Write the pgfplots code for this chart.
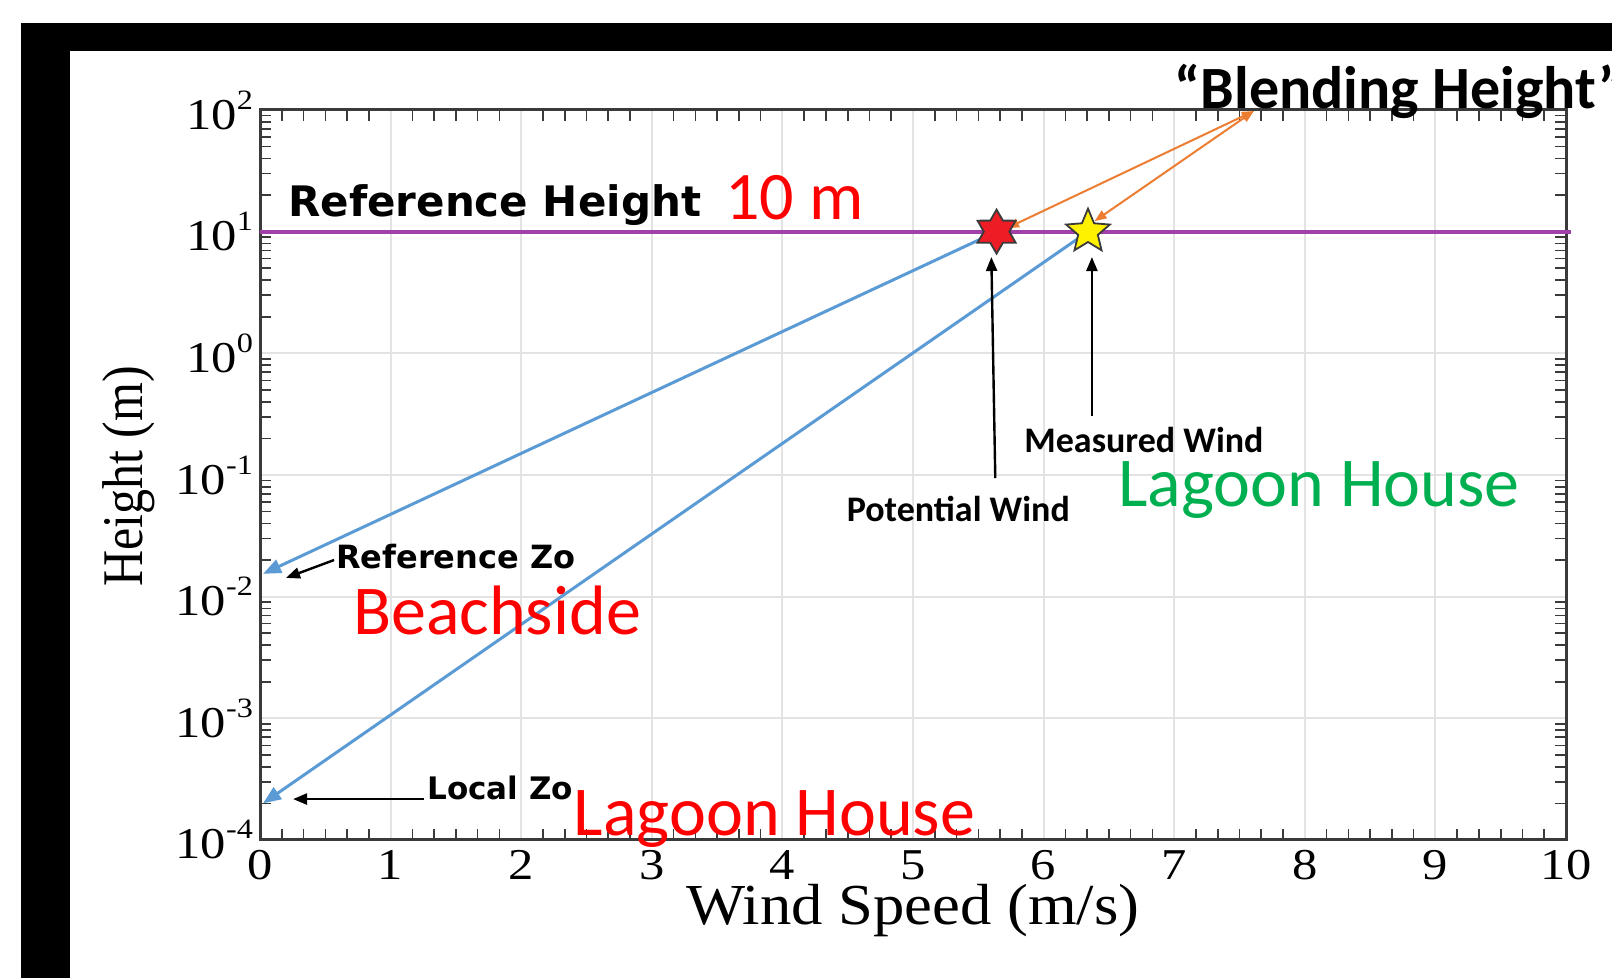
\documentclass[border=0pt]{standalone}
\usepackage{fontspec}
\setmainfont{Liberation Serif}
\newfontfamily\calibri{Carlito}
\newfontfamily\verd{DejaVu Sans}
\usepackage{graphicx}
\usepackage{pgfplots}
\pgfplotsset{compat=1.18}
\usetikzlibrary{arrows.meta}

\definecolor{lineblue}{HTML}{5B9BD5}
\definecolor{purp}{HTML}{A040A8}
\definecolor{orng}{HTML}{ED7D31}
\definecolor{grn}{HTML}{00B050}
\definecolor{gridc}{HTML}{E3E3E3}
\definecolor{axc}{HTML}{3A3A3A}
\definecolor{starred}{HTML}{EE1C25}

\pgfdeclareplotmark{fivestar}{%
  \pgfpathmoveto{\pgfpointpolar{90}{\pgfplotmarksize}}%
  \pgfpathlineto{\pgfpointpolar{126}{0.45\pgfplotmarksize}}%
  \pgfpathlineto{\pgfpointpolar{162}{\pgfplotmarksize}}%
  \pgfpathlineto{\pgfpointpolar{198}{0.45\pgfplotmarksize}}%
  \pgfpathlineto{\pgfpointpolar{234}{\pgfplotmarksize}}%
  \pgfpathlineto{\pgfpointpolar{270}{0.45\pgfplotmarksize}}%
  \pgfpathlineto{\pgfpointpolar{306}{\pgfplotmarksize}}%
  \pgfpathlineto{\pgfpointpolar{342}{0.45\pgfplotmarksize}}%
  \pgfpathlineto{\pgfpointpolar{18}{\pgfplotmarksize}}%
  \pgfpathlineto{\pgfpointpolar{54}{0.45\pgfplotmarksize}}%
  \pgfpathclose
  \pgfusepathqfillstroke}
\pgfdeclareplotmark{sixstar}{%
  \pgfpathmoveto{\pgfpointpolar{90}{\pgfplotmarksize}}%
  \pgfpathlineto{\pgfpointpolar{120}{0.58\pgfplotmarksize}}%
  \pgfpathlineto{\pgfpointpolar{150}{\pgfplotmarksize}}%
  \pgfpathlineto{\pgfpointpolar{180}{0.58\pgfplotmarksize}}%
  \pgfpathlineto{\pgfpointpolar{210}{\pgfplotmarksize}}%
  \pgfpathlineto{\pgfpointpolar{240}{0.58\pgfplotmarksize}}%
  \pgfpathlineto{\pgfpointpolar{270}{\pgfplotmarksize}}%
  \pgfpathlineto{\pgfpointpolar{300}{0.58\pgfplotmarksize}}%
  \pgfpathlineto{\pgfpointpolar{330}{\pgfplotmarksize}}%
  \pgfpathlineto{\pgfpointpolar{0}{0.58\pgfplotmarksize}}%
  \pgfpathlineto{\pgfpointpolar{30}{\pgfplotmarksize}}%
  \pgfpathlineto{\pgfpointpolar{60}{0.58\pgfplotmarksize}}%
  \pgfpathclose
  \pgfusepathqfillstroke}

\newcommand\ylab[1]{\scalebox{1.15}[1]{10\raisebox{10pt}{\fontsize{14}{14}\selectfont #1}}}

\begin{document}
\begin{tikzpicture}
\fill[white] (0,0) rectangle (806pt,489pt);
\path[use as bounding box] (0,0) rectangle (806pt,489pt);
\fill[black] (10.5pt,463.5pt) rectangle (806pt,477.5pt);
\fill[black] (10.5pt,0pt) rectangle (35pt,477.5pt);
\begin{axis}[
  at={(130pt,69pt)}, anchor=south west,
  scale only axis, width=653pt, height=365pt,
  ymode=log, xmin=0, xmax=10, ymin=1e-4, ymax=100,
  xtick={0,1,2,3,4,5,6,7,8,9,10},
  ytick={1e-4,1e-3,1e-2,1e-1,1,10,100},
  yticklabels={\ylab{-4},\ylab{-3},\ylab{-2},\ylab{-1},\ylab{0},\ylab{1},\ylab{2}},
  minor x tick num=5,
  minor ytick={2e-4,3e-4,4e-4,5e-4,6e-4,7e-4,8e-4,9e-4,
               2e-3,3e-3,4e-3,5e-3,6e-3,7e-3,8e-3,9e-3,
               2e-2,3e-2,4e-2,5e-2,6e-2,7e-2,8e-2,9e-2,
               2e-1,3e-1,4e-1,5e-1,6e-1,7e-1,8e-1,9e-1,
               2,3,4,5,6,7,8,9,20,30,40,50,60,70,80,90},
  grid=major, major grid style={gridc, line width=1pt},
  axis line style={axc, line width=1.5pt},
  major tick length=0pt, minor tick length=5.5pt,
  every tick/.style={axc, line width=0.8pt},
  tick label style={font=\fontsize{22}{24}\selectfont, text=black},
  xticklabel style={inner sep=1pt, yshift=-3.9pt},
  /pgf/number format/assume math mode=true,
  xticklabel={\scalebox{1.15}[1]{\pgfmathprintnumber{\tick}}},
  xlabel={\scalebox{1.08}[1]{Wind Speed (m/s)}},
  ylabel={\scalebox{1}[1.15]{Height (m)}},
  xlabel style={at={(axis description cs:0.5,-0.1164)}, anchor=base, inner sep=0pt, font=\fontsize{29}{30}\selectfont},
  ylabel style={at={(axis description cs:-0.1007,0.498)}, anchor=center, font=\fontsize{25}{26}\selectfont},
  clip=false,
]
% reference height line
\addplot[purp, line width=2pt] coordinates {(0,10) (10.04,10)};
% log-law profiles
\addplot[lineblue, line width=1.5pt, -{Triangle[length=9pt,width=7pt]}] coordinates {(5.64,10) (0.023,0.0154)};
\addplot[lineblue, line width=1.5pt, -{Triangle[length=9pt,width=7pt]}] coordinates {(6.34,10) (0.023,0.0002)};
% stars
\addplot[only marks, mark=sixstar, mark size=11pt, mark options={fill=starred, draw=axc, line width=0.9pt}] coordinates {(5.64,10)};
\addplot[only marks, mark=fivestar, mark size=11.5pt, mark options={fill=yellow, draw=axc, line width=0.9pt}] coordinates {(6.34,10)};
% orange arrows
\addplot[orng, line width=1pt, {Triangle[length=6pt,width=4.5pt]}-{Triangle[length=6pt,width=4.5pt]}] coordinates {(7.61,98) (5.72,10.7)};
\addplot[orng, line width=1pt, {Triangle[length=6pt,width=4.5pt]}-{Triangle[length=6pt,width=4.5pt]}] coordinates {(7.61,98) (6.39,12.2)};
% black pointers
\addplot[black, line width=1.2pt, -{Triangle[length=7pt,width=5.5pt]}] coordinates {(5.63,0.0944) (5.60,6.19)};
\addplot[black, line width=1.2pt, -{Triangle[length=7pt,width=5.5pt]}] coordinates {(6.37,0.305) (6.37,6.19)};
\addplot[black, line width=1.2pt, -{Triangle[length=7pt,width=5.5pt]}] coordinates {(0.567,0.02) (0.199,0.01426)};
\addplot[black, line width=1.2pt, -{Triangle[length=7pt,width=5.5pt]}] coordinates {(1.256,2.17e-4) (0.253,2.17e-4)};
% texts
\node[anchor=base west, inner sep=0pt, font={\verd\bfseries\fontsize{21}{21}\selectfont}] at (axis cs:0.214,13.2) {Reference Height};
\node[anchor=base west, inner sep=0pt, text=red, font={\calibri\fontsize{34}{34}\selectfont}] at (axis cs:3.56,12.47) {10 m};
\node[anchor=base west, inner sep=0pt, font={\calibri\bfseries\fontsize{30}{30}\selectfont}] at (axis cs:7.0,103.7) {“Blending Height”};
\node[anchor=base west, inner sep=0pt, font={\calibri\bfseries\fontsize{18}{18}\selectfont}] at (axis cs:5.85,0.1545) {Measured Wind};
\node[anchor=base west, inner sep=0pt, font={\calibri\bfseries\fontsize{18}{18}\selectfont}] at (axis cs:4.49,0.0411) {Potential Wind};
\node[anchor=base west, inner sep=0pt, text=grn, font={\calibri\fontsize{35}{35}\selectfont}] at (axis cs:6.57,0.0546) {Lagoon House};
\node[anchor=base west, inner sep=0pt, text=red, font={\calibri\fontsize{35}{35}\selectfont}] at (axis cs:0.71,0.00493) {Beachside};
\node[anchor=base west, inner sep=0pt, text=red, font={\calibri\fontsize{35}{35}\selectfont}] at (axis cs:2.40,1.099e-4) {Lagoon House};
\node[anchor=base west, inner sep=0pt, font={\verd\bfseries\fontsize{16}{16}\selectfont}] at (axis cs:0.58,0.01714) {Reference Zo};
\node[anchor=base west, inner sep=0pt, font={\verd\bfseries\fontsize{15.5}{15.5}\selectfont}] at (axis cs:1.28,2.17e-4) {Local Zo};
\end{axis}
\end{tikzpicture}
\end{document}
